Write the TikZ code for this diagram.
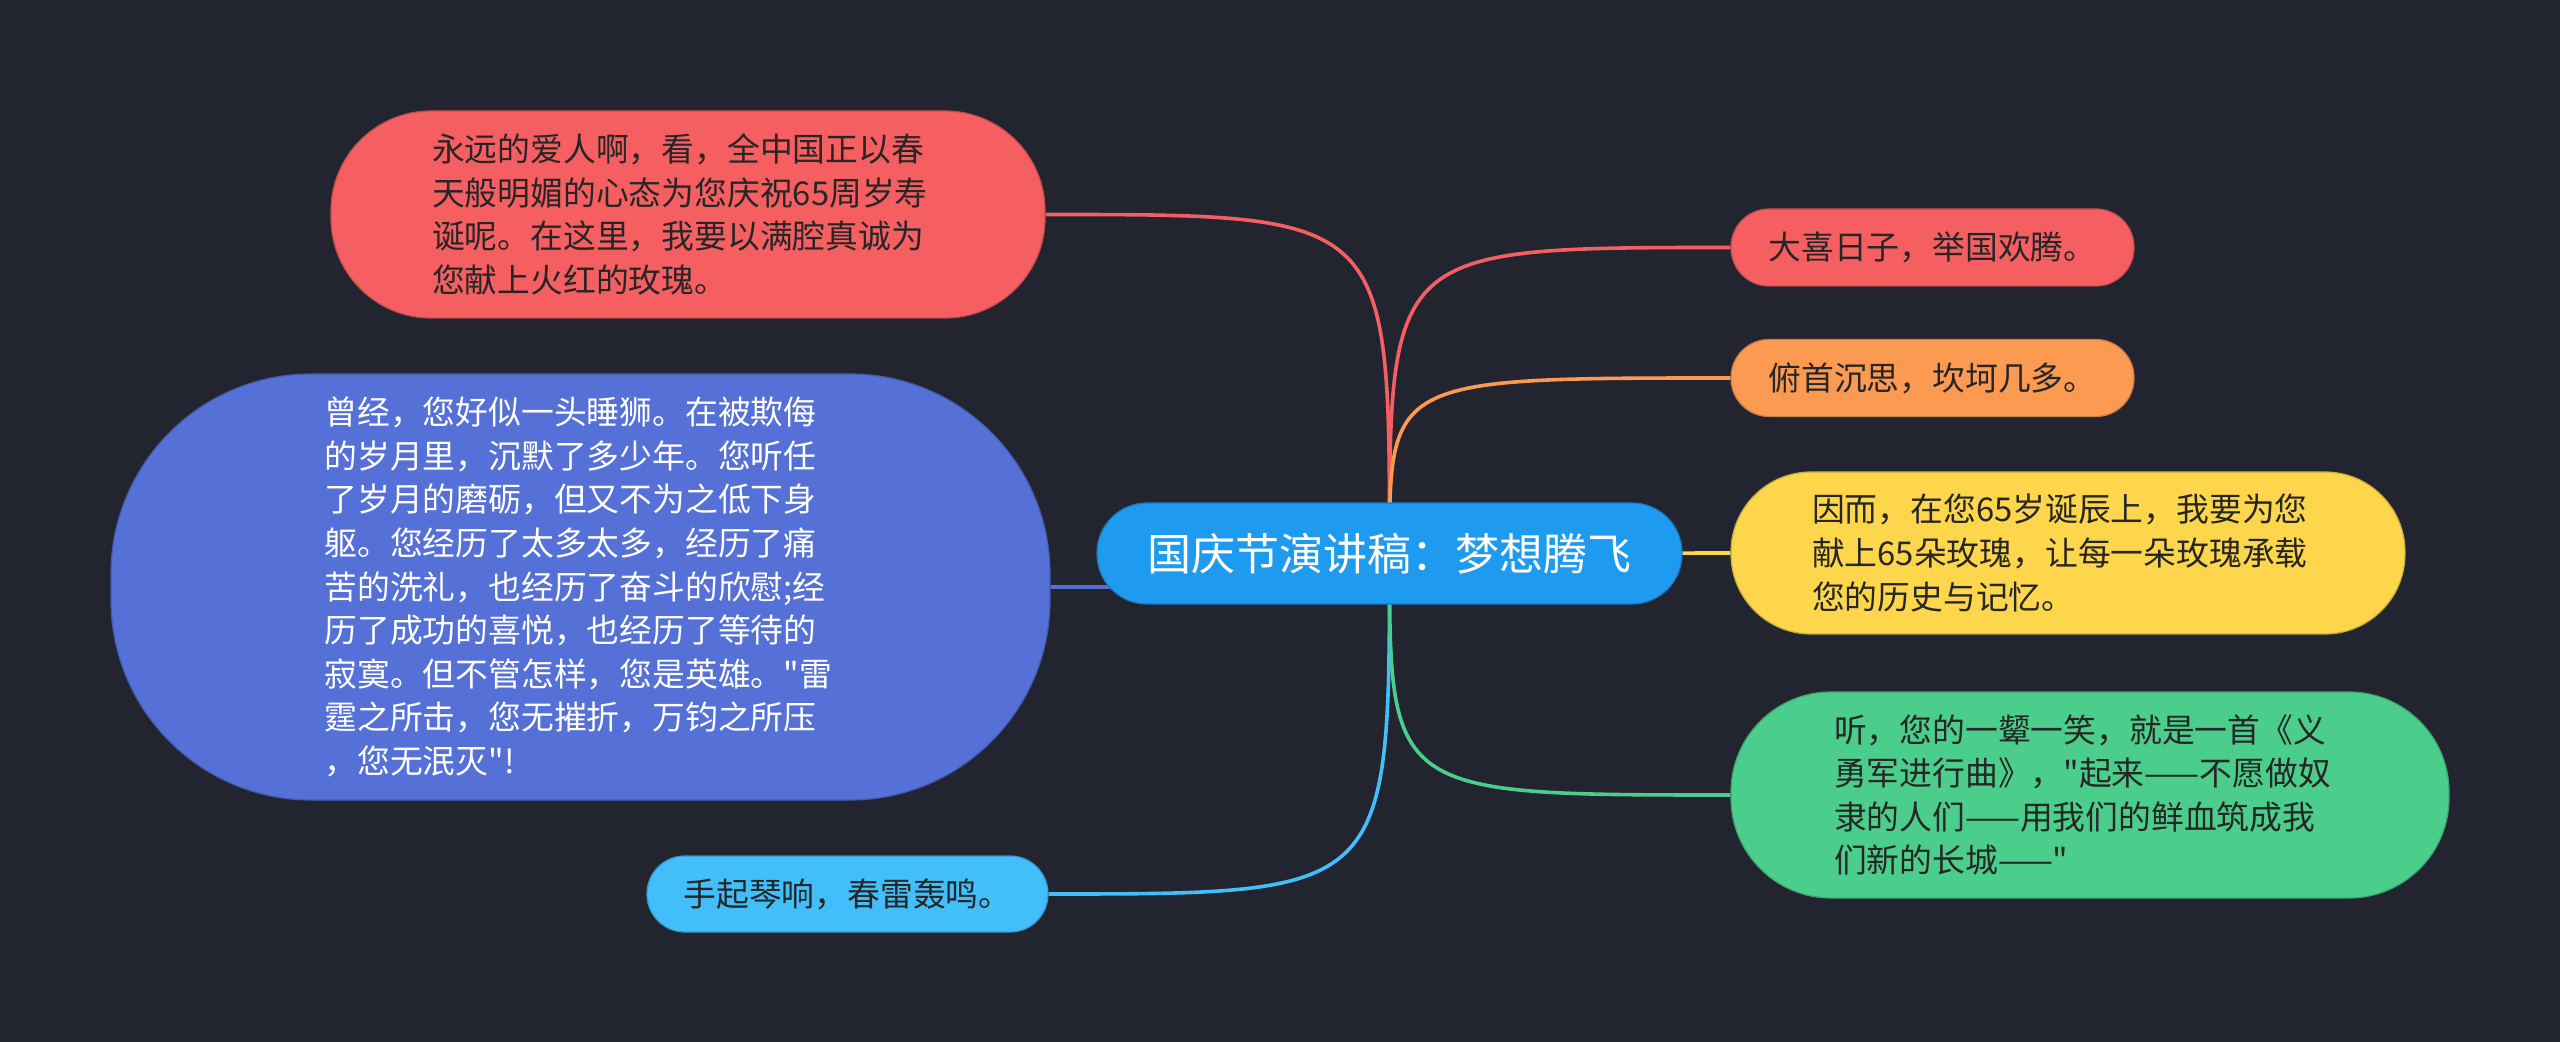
\documentclass[tikz,border=0pt]{standalone}
\usepackage{fontspec}
\setmainfont{Noto Sans CJK SC}[Ligatures=TeXOff]
\definecolor{bgc}{HTML}{22252F}
\definecolor{croot}{HTML}{1E9AEF}
\definecolor{cred}{HTML}{F65F62}
\definecolor{cblue}{HTML}{5570D6}
\definecolor{clblue}{HTML}{42BFFB}
\definecolor{corange}{HTML}{FD9A52}
\definecolor{cyellow}{HTML}{FDD64C}
\definecolor{cgreen}{HTML}{4BCE8B}
\definecolor{tdark}{HTML}{262626}
\pgfdeclarelayer{bglayer}
\pgfdeclarelayer{edgelayer}
\pgfsetlayers{bglayer,edgelayer,main}
\tikzset{
  mmnode/.style={inner sep=0pt, fill=#1, draw=#1!80!black, line width=0.6pt,
    text=tdark, font=\fontsize{16.4pt}{21.8pt}\selectfont},
  parabox/.style={align=left, text width=#1},
  mmedge/.style={line width=1.8pt, #1}
}
\begin{document}
\begin{tikzpicture}[x=0.5pt,y=-0.5pt]
\begin{pgfonlayer}{bglayer}
\fill[bgc] (0,0) rectangle (2560,1042);
\end{pgfonlayer}
\useasboundingbox (0,0) rectangle (2560,1042);

\node[mmnode=croot, text=white, minimum width=292.5pt, minimum height=50.5pt,
  rounded corners=25pt, font=\fontsize{22pt}{26pt}\selectfont] (root) at (1389.5,553.5)
  {国庆节演讲稿：梦想腾飞};

\node[mmnode=cred, parabox=256pt, minimum width=357pt, minimum height=103.5pt,
  rounded corners=50pt] (rtl) at (688,214.5)
  {永远的爱人啊，看，全中国正以春\\天般明媚的心态为您庆祝65周岁寿\\诞呢。在这里，我要以满腔真诚为\\您献上火红的玫瑰。};

\node[mmnode=cblue, text=white, parabox=256pt, minimum width=469.5pt, minimum height=213pt,
  rounded corners=100pt] (bbig) at (580.5,587)
  {曾经，您好似一头睡狮。在被欺侮\\的岁月里，沉默了多少年。您听任\\了岁月的磨砺，但又不为之低下身\\躯。您经历了太多太多，经历了痛\\苦的洗礼，也经历了奋斗的欣慰;经\\历了成功的喜悦，也经历了等待的\\寂寞。但不管怎样，您是英雄。"雷\\霆之所击，您无摧折，万钧之所压\\，您无泯灭"!};

\node[mmnode=clblue, minimum width=200.5pt, minimum height=38pt,
  rounded corners=18.9pt] (lblue) at (847.5,894)
  {手起琴响，春雷轰鸣。};

\node[mmnode=cred, minimum width=201.5pt, minimum height=38.5pt,
  rounded corners=19pt] (rred) at (1932.5,247.5)
  {大喜日子，举国欢腾。};

\node[mmnode=corange, minimum width=201.5pt, minimum height=38.5pt,
  rounded corners=19pt] (rorange) at (1932.5,378)
  {俯首沉思，坎坷几多。};

\node[mmnode=cyellow, parabox=256pt, minimum width=337pt, minimum height=81pt,
  rounded corners=40pt] (ryellow) at (2068,553)
  {因而，在您65岁诞辰上，我要为您\\献上65朵玫瑰，让每一朵玫瑰承载\\您的历史与记忆。};

\node[mmnode=cgreen, parabox=256pt, minimum width=359pt, minimum height=103pt,
  rounded corners=50pt] (rgreen) at (2090,795)
  {听，您的一颦一笑，就是一首《义\\勇军进行曲》，"起来——不愿做奴\\隶的人们——用我们的鲜血筑成我\\们新的长城——"};

\begin{pgfonlayer}{edgelayer}
\draw[mmedge=cred] (root.center) .. controls (root.center |- rtl.east) .. (rtl.east);
\draw[mmedge=cblue] (root.center) .. controls (root.center |- bbig.east) .. (bbig.east);
\draw[mmedge=clblue] (root.center) .. controls (root.center |- lblue.east) .. (lblue.east);
\draw[mmedge=cred] (root.center) .. controls (root.center |- rred.west) .. (rred.west);
\draw[mmedge=corange] (root.center) .. controls (root.center |- rorange.west) .. (rorange.west);
\draw[mmedge=cyellow] (root.center) -- (ryellow.west);
\draw[mmedge=cgreen] (root.center) .. controls (root.center |- rgreen.west) .. (rgreen.west);
\end{pgfonlayer}
\end{tikzpicture}
\end{document}
